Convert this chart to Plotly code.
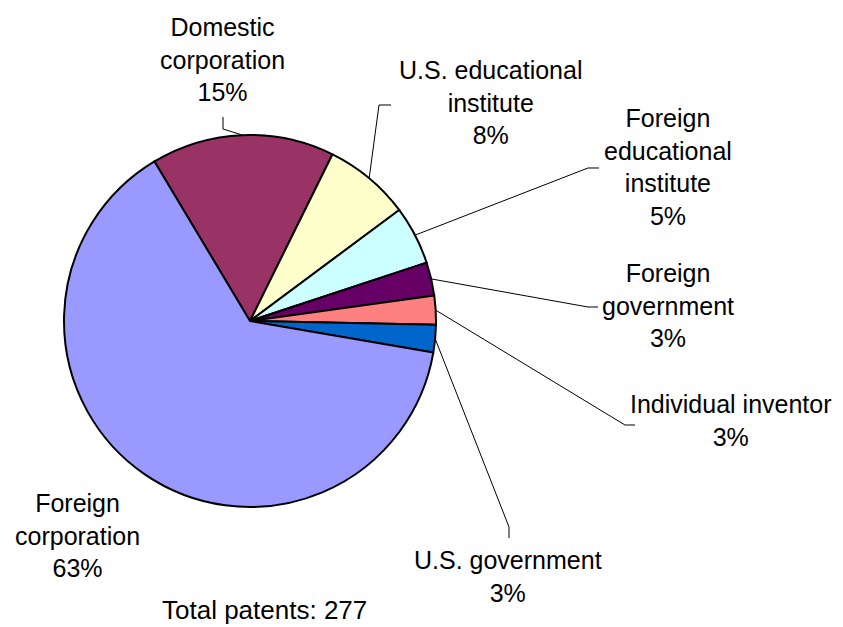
import math
import plotly.graph_objects as go

# slice data (shares, in order clockwise from the 11 o'clock edge)
labels = ["Domestic<br>corporation", "U.S. educational<br>institute", "Foreign<br>educational<br>institute",
          "Foreign<br>government", "Individual inventor", "U.S. government", "Foreign<br>corporation"]
shares = [15.9, 7.5, 5.1, 2.9, 2.5, 2.4, 63.7]
pct_text = ["15%", "8%", "5%", "3%", "3%", "3%", "63%"]
colors = ["#993366", "#FFFFCC", "#CCFFFF", "#660066", "#FF8080", "#0066CC", "#9999FF"]
total_patents = 277

OFF = 8  # page body margin the browser adds around the plot div
W, H = 843 - OFF, 627 - OFF
cx, cy, r = 250, 321, 186
start_angle = -30.9

# label block centres and leader elbows (pixels in the 843x627 window)
label_pos = [(222, 60), (491, 103), (668, 167), (668, 306), (731, 421), (508, 576), (77, 535)]
leader = [
    [(223, 129), (223, 117)],
    [(379, 105), (391, 105)],
    [(588, 168), (599, 168)],
    [(588, 307), (598, 307)],
    [(625, 425), (635, 425)],
    [(509, 527), (509, 538)],
    None,
]

def px(x):
    return (x - OFF) / W

def py(y):
    return 1 - (y - OFF) / H

fig = go.Figure(go.Pie(
    labels=[l.replace("<br>", " ") for l in labels],
    values=shares,
    sort=False,
    direction="clockwise",
    rotation=start_angle,
    marker=dict(colors=colors, line=dict(color="black", width=2)),
    textinfo="none",
    hoverinfo="label+percent",
    domain=dict(x=[px(cx - r), px(cx + r)], y=[py(cy + r), py(cy - r)]),
    showlegend=False,
))

shapes = []
annotations = []
tot = sum(shares)
acc = 0
for i, v in enumerate(shares):
    mid = start_angle + (acc + v / 2) / tot * 360
    acc += v
    if leader[i] is not None:
        a = math.radians(mid)
        pts = [(cx + r * math.sin(a), cy - r * math.cos(a))] + leader[i]
        path = "M " + " L ".join(f"{px(x):.5f},{py(y):.5f}" for x, y in pts)
        shapes.append(dict(type="path", path=path, xref="paper", yref="paper",
                           line=dict(color="black", width=1)))
    lx, ly = label_pos[i]
    annotations.append(dict(x=px(lx), y=py(ly), xref="paper", yref="paper",
                            text=labels[i] + "<br>" + pct_text[i], showarrow=False,
                            xanchor="center", yanchor="middle", align="center",
                            font=dict(size=25, color="black")))

annotations.append(dict(x=px(264), y=py(610), xref="paper", yref="paper",
                        text=f"Total patents: {total_patents}", showarrow=False,
                        xanchor="center", yanchor="middle",
                        font=dict(size=26, color="black")))

fig.update_layout(
    width=W, height=H,
    margin=dict(l=0, r=0, t=0, b=0),
    paper_bgcolor="white",
    plot_bgcolor="white",
    font=dict(family="Liberation Sans, Arial, sans-serif"),
    shapes=shapes,
    annotations=annotations,
)

fig.write_html("out.html")
